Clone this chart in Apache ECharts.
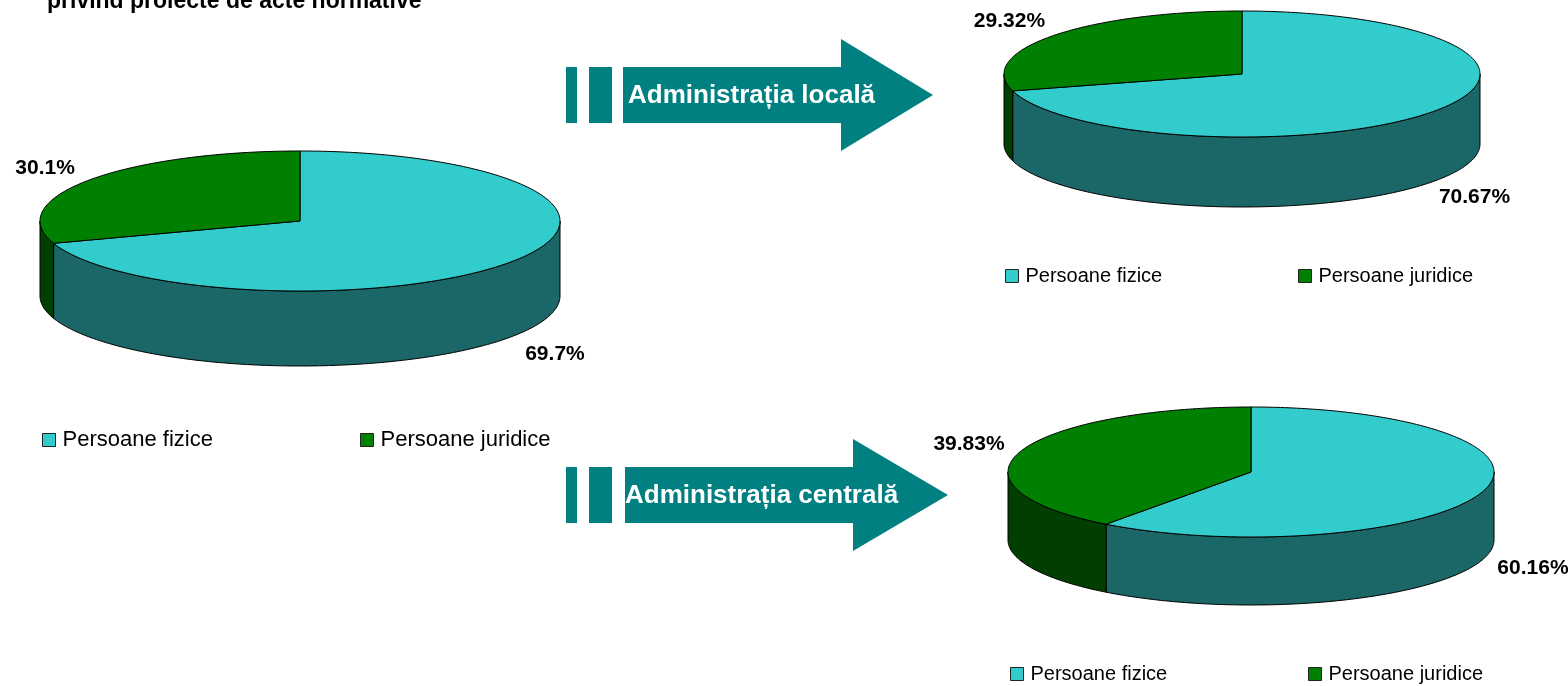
<!DOCTYPE html>
<html><head><meta charset="utf-8">
<script src="https://cdn.jsdelivr.net/npm/echarts@6/dist/echarts.min.js"></script>
<style>html,body{margin:0;padding:0;background:#fff}#c{width:1568px;height:686px}</style>
</head><body><div id="c"></div>
<script>
// ---- data ----
const titleText = 'privind proiecte de acte normative';
const arrowLabels = ['Administrația locală', 'Administrația centrală'];
const categories = ['Persoane fizice', 'Persoane juridice'];
const fizice = [69.7, 70.67, 60.16];      // total, locală, centrală
const juridice = [30.1, 29.32, 39.83];
const labelsFizice = ['69.7%', '70.67%', '60.16%'];
const labelsJuridice = ['30.1%', '29.32%', '39.83%'];

// ---- layout / style ----
const pieLayout = [
  {cx: 300, cy: 221, rx: 260, ry: 70, depth: 75, ldy: 3},
  {cx: 1242, cy: 74, rx: 238, ry: 63, depth: 70, ldy: 0},
  {cx: 1251, cy: 472, rx: 243, ry: 65, depth: 68, ldy: 0}
];
const topColors = ['#33CCCC', '#008000'];
const sideColors = ['#1B6666', '#003F00'];
const labels = [labelsFizice, labelsJuridice];
const FONT = '"Liberation Sans", Arial, sans-serif';

function renderSlice(seriesIdx) {
  return function (params, api) {
    const i = params.dataIndex;
    const L = pieLayout[i];
    const v = api.value(0);
    const total = fizice[i] + juridice[i];
    const startVal = seriesIdx === 0 ? 0 : fizice[i];
    const a0 = 90 - 360 * startVal / total;
    const a1 = 90 - 360 * (startVal + v) / total;
    const pt = (deg, dy) => {
      const r = deg * Math.PI / 180;
      return [L.cx + L.rx * Math.cos(r), L.cy - L.ry * Math.sin(r) + (dy || 0)];
    };
    const arc = (from, to, dy) => {
      const n = Math.max(2, Math.ceil(Math.abs(from - to)));
      const out = [];
      for (let k = 0; k <= n; k++) out.push(pt(from + (to - from) * k / n, dy));
      return out;
    };
    const children = [];
    [[-180, 0], [-540, -360], [180, 360]].forEach(([lo, hi]) => {
      const s = Math.max(lo, a1), e = Math.min(hi, a0);
      if (e - s > 0.01) {
        const top = arc(e, s, 0);
        const bot = arc(s, e, L.depth);
        children.push({type: 'polygon', shape: {points: top.concat(bot)},
          style: {fill: sideColors[seriesIdx], stroke: '#000', lineWidth: 1}});
      }
    });
    children.push({type: 'polygon', shape: {points: [[L.cx, L.cy]].concat(arc(a0, a1, 0))},
      style: {fill: topColors[seriesIdx], stroke: '#000', lineWidth: 1, lineJoin: 'round'}});
    const mid = (a0 + a1) / 2, r = mid * Math.PI / 180;
    const lx = L.cx + (L.rx + 54) * Math.cos(r);
    const ly = L.cy - (L.ry + 25) * Math.sin(r) + (Math.sin(r) < 0 ? L.depth : 0) + L.ldy;
    children.push({type: 'text', style: {text: labels[seriesIdx][i], x: lx, y: ly,
      align: 'center', verticalAlign: 'middle', fill: '#000',
      font: 'bold 21px ' + FONT}});
    return {type: 'group', children};
  };
}

const legendPos = [
  [42, 429, 0, 22], [360, 429, 1, 22],
  [1005, 266, 0, 20], [1298, 266, 1, 20],
  [1010, 664, 0, 20], [1308, 664, 1, 20]
];

function arrow(bodyX0, headX, tipX, midY) {
  const bt = midY - 28, bb = midY + 28;
  return [
    {type: 'rect', shape: {x: 566, y: bt, width: 11, height: 56}, style: {fill: '#008080'}},
    {type: 'rect', shape: {x: 589, y: bt, width: 23, height: 56}, style: {fill: '#008080'}},
    {type: 'polygon', shape: {points: [[bodyX0, bt], [headX, bt], [headX, midY - 56], [tipX, midY],
      [headX, midY + 56], [headX, bb], [bodyX0, bb]]}, style: {fill: '#008080'}}
  ];
}

const chart = echarts.init(document.getElementById('c'), null, {renderer: 'canvas'});
chart.setOption({
  animation: false,
  backgroundColor: '#fff',
  legend: legendPos.map(([x, y, c, fs]) => ({
    data: [categories[c]], left: x, top: y, padding: 0,
    icon: 'rect', itemWidth: 13, itemHeight: 13,
    itemStyle: {borderColor: '#222', borderWidth: 1},
    textStyle: {fontSize: fs, color: '#000', fontFamily: FONT, padding: [0, 0, 0, 2]},
    selectedMode: false
  })),
  graphic: [
    {type: 'text', style: {text: titleText, x: 47, y: 2, verticalAlign: 'middle', fill: '#000',
      font: 'bold 23px ' + FONT}},
    ...arrow(623, 841, 933, 95),
    {type: 'text', style: {text: arrowLabels[0], x: 628, y: 96, verticalAlign: 'middle', fill: '#fff',
      font: 'bold 26px ' + FONT}},
    ...arrow(625, 853, 948, 495),
    {type: 'text', style: {text: arrowLabels[1], x: 625, y: 496, verticalAlign: 'middle', fill: '#fff',
      font: 'bold 26px ' + FONT}}
  ],
  series: [
    {type: 'custom', name: categories[0], coordinateSystem: 'none', silent: true,
      itemStyle: {color: topColors[0]}, renderItem: renderSlice(0),
      data: fizice.map((v, i) => [v, i])},
    {type: 'custom', name: categories[1], coordinateSystem: 'none', silent: true,
      itemStyle: {color: topColors[1]}, renderItem: renderSlice(1),
      data: juridice.map((v, i) => [v, i])}
  ]
});
</script></body></html>
